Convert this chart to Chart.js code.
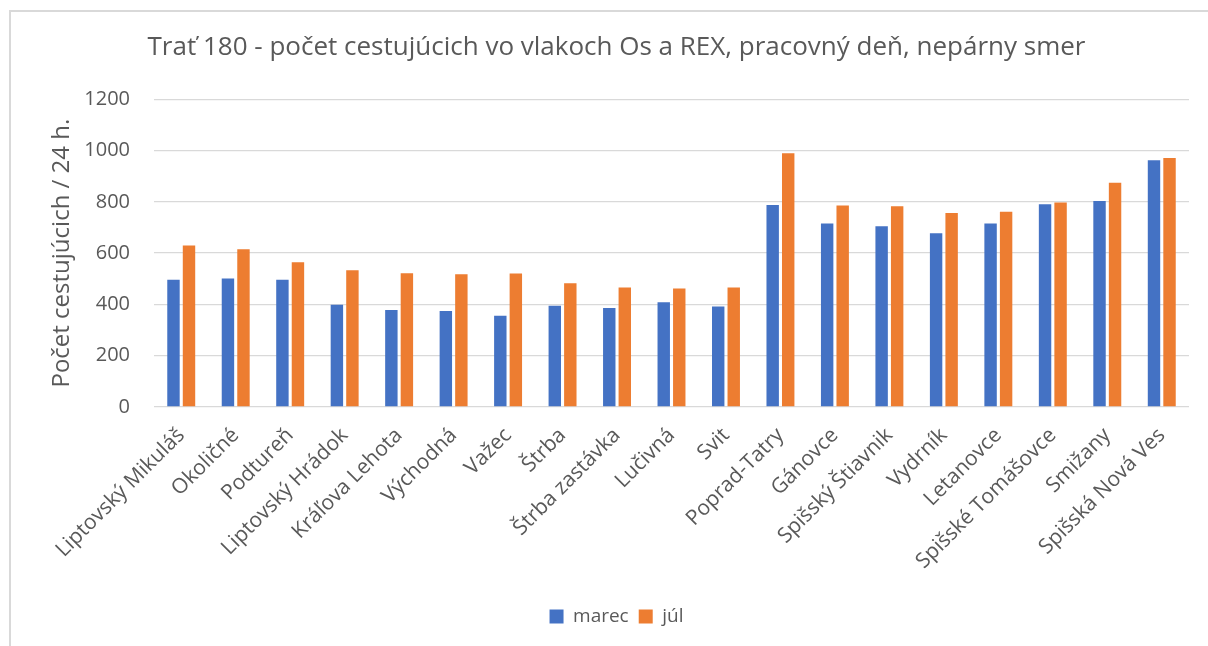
<!DOCTYPE html>
<html>
<head>
<meta charset="utf-8">
<script src="https://cdn.jsdelivr.net/npm/chart.js@4/dist/chart.umd.min.js"></script>
<style>
  html, body { margin: 0; padding: 0; background: #fff; overflow: hidden; }
  #wrap { position: relative; width: 1208px; height: 646px; }
  #frame { position: absolute; left: 9px; top: 10px; width: 1220px; height: 660px; border: 2px solid #d9d9d9; box-sizing: border-box; }
  canvas { position: absolute; left: 0; top: 0; }
</style>
</head>
<body>
<div id="wrap">
  <div id="frame"></div>
  <canvas id="myChart" width="1208" height="646"></canvas>
</div>
<script>
const stanice = [
  'Liptovský Mikuláš', 'Okoličné', 'Podtureň', 'Liptovský Hrádok', 'Kráľova Lehota',
  'Východná', 'Važec', 'Štrba', 'Štrba zastávka', 'Lučivná', 'Svit', 'Poprad-Tatry',
  'Gánovce', 'Spišský Štiavnik', 'Vydrník', 'Letanovce', 'Spišské Tomášovce',
  'Smižany', 'Spišská Nová Ves'
];
const marec = [496, 501, 496, 399, 378, 374, 356, 395, 386, 408, 392, 788, 715, 705, 677, 715, 790, 803, 962];
const jul = [630, 615, 564, 533, 521, 518, 520, 482, 466, 462, 466, 989, 786, 783, 756, 761, 797, 874, 971];
const osY = [0, 200, 400, 600, 800, 1000, 1200];

const font = "'Open Sans', sans-serif";
const textColor = '#595959';

Chart.defaults.font.family = font;
Chart.defaults.color = textColor;

const ctx = document.getElementById('myChart');
new Chart(ctx, {
  type: 'bar',
  data: {
    labels: stanice,
    datasets: [
      { label: 'marec', data: marec, backgroundColor: '#4472C4' },
      { label: 'júl', data: jul, backgroundColor: '#ED7D31' }
    ]
  },
  options: {
    responsive: false,
    animation: false,
    layout: { padding: { left: 44, right: 19, top: 10, bottom: 10 } },
    datasets: {
      bar: { categoryPercentage: 0.57, barPercentage: 0.8 }
    },
    plugins: {
      title: {
        display: true,
        text: 'Trať 180 - počet cestujúcich vo vlakoch Os a REX, pracovný deň, nepárny smer',
        color: textColor,
        font: { size: 26, weight: 'normal' },
        padding: { top: 22, bottom: 36 }
      },
      legend: {
        position: 'bottom',
        labels: {
          boxWidth: 14,
          boxHeight: 14,
          padding: 10,
          font: { size: 19 },
          color: textColor
        }
      },
      tooltip: { enabled: false }
    },
    scales: {
      x: {
        grid: { display: false },
        border: { display: false },
        ticks: {
          autoSkip: false,
          minRotation: 45,
          maxRotation: 45,
          padding: 8,
          font: { size: 21 },
          color: textColor
        },
        afterFit: (scale) => { scale.height = 190; }
      },
      y: {
        min: 0,
        max: 1200,
        afterBuildTicks: (scale) => { scale.ticks = osY.map((v) => ({ value: v })); },
        grid: { color: '#d9d9d9', lineWidth: 1.3, drawTicks: false },
        border: { display: false },
        ticks: {
          padding: 24,
          font: { size: 20 },
          color: textColor,
          callback: (v) => String(v)
        },
        title: {
          display: true,
          text: 'Počet cestujúcich / 24 h.',
          font: { size: 24 },
          color: textColor
        },
        afterFit: (scale) => { scale.width = 110; }
      }
    }
  }
});
</script>
</body>
</html>
